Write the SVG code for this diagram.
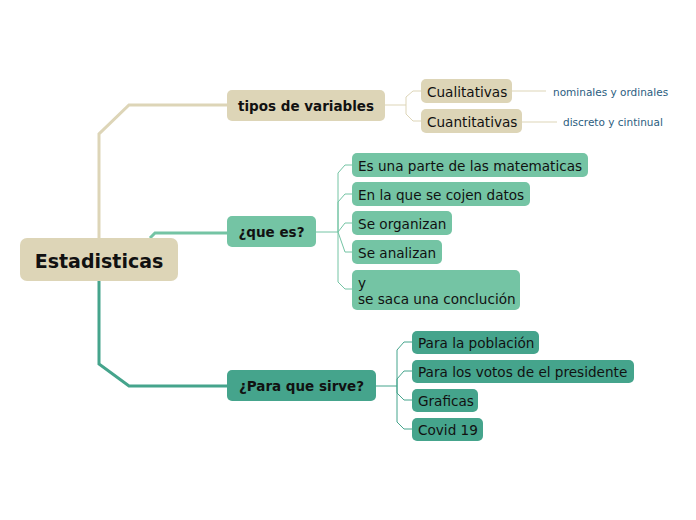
<svg xmlns="http://www.w3.org/2000/svg" width="696" height="520" viewBox="0 0 696 520">
<style>
text{font-family:"DejaVu Sans","Verdana",sans-serif;fill:#111}
.root{font-size:19px;font-weight:bold}
.main{font-size:13.5px;font-weight:bold}
.sub{font-size:13.6px}
.lbl{font-size:10.5px;fill:#2b5d80}
.beige{fill:#ddd5b7}
.lt{fill:#74c4a4}
.dk{fill:#45a48c}
.thick{fill:none;stroke-width:3}
.thin{fill:none;stroke-width:1}
</style>
<rect width="696" height="520" fill="#fff"/>
<g id="connectors">
<path class="thick" stroke="#ddd5b7" d="M99 238 V134 L129 105 H227"/>
<path class="thick" stroke="#74c4a4" d="M150 238 L155 233 H227"/>
<path class="thick" stroke="#45a48c" d="M99 281 V364 L129 386 H227"/>
<g class="thin" stroke="#ddd5b7">
<path d="M385 105 H406"/>
<path d="M406 105 V97 L413 91 H421"/>
<path d="M406 105 V114 L413 121 H421"/>
<path d="M512 91 H546"/>
<path d="M522 122 H557"/>
</g>
<g class="thin" stroke="#74c4a4">
<path d="M316 232 H338"/>
<path d="M338 232 V173 L345 165 H352"/>
<path d="M338 232 V202 L345 194 H352"/>
<path d="M338 232 L345 223 H352"/>
<path d="M338 232 L345 252 H352"/>
<path d="M338 232 V282 L345 289 H352"/>
</g>
<g class="thin" stroke="#45a48c">
<path d="M376 386 H397"/>
<path d="M397 386 V350 L404 342 H412"/>
<path d="M397 386 V379 L404 371 H412"/>
<path d="M397 386 V393 L404 400 H412"/>
<path d="M397 386 V422 L404 429 H412"/>
</g>
</g>
<g id="root"><rect class="beige" x="20" y="238" width="158" height="43" rx="7"/><text class="root" x="99" y="268" text-anchor="middle">Estadisticas</text></g>
<g id="tipos"><rect class="beige" x="227" y="90" width="158" height="31" rx="5"/><text class="main" x="306" y="111" text-anchor="middle">tipos de variables</text></g>
<g id="quees"><rect class="lt" x="227" y="216" width="89" height="31" rx="5"/><text class="main" x="271.5" y="237" text-anchor="middle">¿que es?</text></g>
<g id="para"><rect class="dk" x="227" y="370" width="149" height="31" rx="5"/><text class="main" x="301.5" y="391" text-anchor="middle">¿Para que sirve?</text></g>
<g id="cuali"><rect class="beige" x="421" y="79" width="91" height="24" rx="5"/><text class="sub" x="427" y="97">Cualitativas</text></g>
<g id="cuanti"><rect class="beige" x="421" y="109" width="101" height="24" rx="5"/><text class="sub" x="427" y="127">Cuantitativas</text></g>
<g id="lbl1"><text class="lbl" x="553" y="96">nominales y ordinales</text></g>
<g id="lbl2"><text class="lbl" x="563" y="126">discreto y cintinual</text></g>
<g id="q1"><rect class="lt" x="352" y="153" width="236" height="24" rx="5"/><text class="sub" x="358" y="171">Es una parte de las matematicas</text></g>
<g id="q2"><rect class="lt" x="352" y="182" width="178" height="24" rx="5"/><text class="sub" x="358" y="200">En la que se cojen datos</text></g>
<g id="q3"><rect class="lt" x="352" y="211" width="100" height="24" rx="5"/><text class="sub" x="358" y="229">Se organizan</text></g>
<g id="q4"><rect class="lt" x="352" y="240" width="90" height="24" rx="5"/><text class="sub" x="358" y="258">Se analizan</text></g>
<g id="q5"><rect class="lt" x="352" y="270" width="168" height="40" rx="5"/><text class="sub" x="358" y="288">y</text><text class="sub" x="358" y="304">se saca una conclución</text></g>
<g id="p1"><rect class="dk" x="412" y="331" width="127" height="23" rx="5"/><text class="sub" x="418" y="348">Para la población</text></g>
<g id="p2"><rect class="dk" x="412" y="360" width="222" height="23" rx="5"/><text class="sub" x="418" y="377">Para los votos de el presidente</text></g>
<g id="p3"><rect class="dk" x="412" y="389" width="66" height="23" rx="5"/><text class="sub" x="418" y="406">Graficas</text></g>
<g id="p4"><rect class="dk" x="412" y="418" width="71" height="23" rx="5"/><text class="sub" x="418" y="435">Covid 19</text></g>
</svg>
